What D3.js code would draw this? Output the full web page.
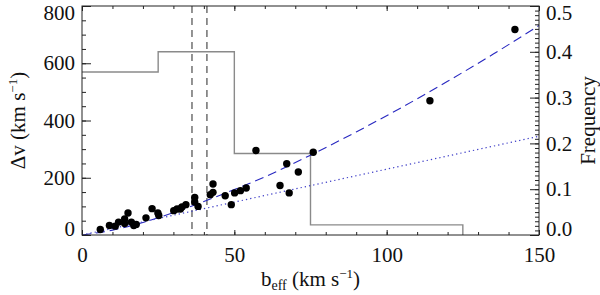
<!DOCTYPE html>
<html lang="en">
<head>
    <meta charset="UTF-8">
    <title>Delta v vs b_eff</title>
    <style>
        body { margin: 0; background: white; }
        svg { display: block; background: white; }
        svg text { font-family: "Liberation Serif", "Times New Roman", "DejaVu Serif", serif !important; fill: #111; }
        .axis path, .axis line { stroke: #222; }
    </style>
</head>
<body>
    <svg width="600" height="295" id="chart" font-family="Liberation Serif, serif"></svg>

    <script src="https://d3js.org/d3.v7.min.js"></script>
    <script>
        // measured points: b_eff (km/s), delta v (km/s)
        const bEff = [6.0, 9.0, 10.9, 12.0, 14.0, 15.1, 14.0, 16.2, 17.0, 17.8, 21.0, 23.0, 24.9, 25.2,
            30.1, 31.2, 32.3, 32.8, 34.1, 37.0, 37.0, 38.1, 42.1, 43.0, 43.0, 47.0, 49.0, 50.1, 52.0, 53.9,
            57.1, 65.0, 67.2, 68.0, 71.0, 75.9, 114.2, 142.1];
        const deltaV = [19, 33, 31, 45, 56, 77, 40, 45, 33, 37, 60, 92, 77, 68,
            85, 91, 91, 98, 106, 131, 115, 100, 141, 149, 178, 137, 106, 147, 155, 164,
            295, 173, 249, 147, 220, 289, 469, 718];

        // fitted relations
        const fitX = [0, 10, 20, 30, 40, 50, 60, 75, 90, 105, 120, 135, 150];
        const fitY = [0, 17, 44, 78, 117, 159, 203, 279, 360, 446, 537, 632, 732];
        const linX = [0, 150];
        const linY = [0, 345];

        // histogram of b_eff (right axis)
        const binEdges = [0, 25, 50, 75, 100, 125];
        const binFreq = [0.356, 0.400, 0.178, 0.022, 0.022];

        // vertical markers
        const markers = [36.1, 41.0];

        const xTicks = [0, 50, 100, 150];
        const yTicks = [0, 200, 400, 600, 800];
        const fTicks = [0.0, 0.1, 0.2, 0.3, 0.4, 0.5];

        const serif = "Liberation Serif, Times New Roman, serif";
        const svg = d3.select("#chart");
        const pLeft = 82, pRight = 539, pTop = 6, pBottom = 235;

        const x = d3.scaleLinear().domain([0, 150]).range([pLeft, pRight]);
        const y = d3.scaleLinear().domain([0, 800]).range([pBottom, pTop]);
        const yf = d3.scaleLinear().domain([0, 0.5]).range([pBottom, pTop]);

        // histogram
        const histPts = binEdges.slice(0, -1).map((e, i) => [e, binFreq[i]]);
        histPts.push([binEdges[binEdges.length - 1], 0]);
        svg.append("path")
            .attr("d", d3.line().x(d => x(d[0])).y(d => yf(d[1])).curve(d3.curveStepAfter)(histPts))
            .attr("fill", "none")
            .attr("stroke", "#8a8a8a")
            .attr("stroke-width", 1.4);

        // vertical dashed markers
        svg.selectAll("line.marker")
            .data(markers)
            .enter()
            .append("line")
            .attr("class", "marker")
            .attr("x1", d => x(d)).attr("x2", d => x(d))
            .attr("y1", pTop).attr("y2", pBottom)
            .attr("stroke", "#666")
            .attr("stroke-width", 1.4)
            .attr("stroke-dasharray", "7,5");

        // fit curves
        svg.append("path")
            .attr("d", d3.line().x(d => x(d[0])).y(d => y(d[1])).curve(d3.curveMonotoneX)(fitX.map((v, i) => [v, fitY[i]])))
            .attr("fill", "none")
            .attr("stroke", "#2828c0")
            .attr("stroke-width", 1.1)
            .attr("stroke-dasharray", "9,5");
        svg.append("path")
            .attr("d", d3.line().x(d => x(d[0])).y(d => y(d[1]))(linX.map((v, i) => [v, linY[i]])))
            .attr("fill", "none")
            .attr("stroke", "#4040c8")
            .attr("stroke-width", 1.2)
            .attr("stroke-dasharray", "1.3,3");

        // points
        svg.selectAll("circle")
            .data(bEff.map((v, i) => [v, deltaV[i]]))
            .enter()
            .append("circle")
            .attr("cx", d => x(d[0]))
            .attr("cy", d => y(d[1]))
            .attr("r", 3.7)
            .attr("fill", "black");

        // frame
        svg.append("rect")
            .attr("x", pLeft).attr("y", pTop)
            .attr("width", pRight - pLeft).attr("height", pBottom - pTop)
            .attr("fill", "none").attr("stroke", "#222");

        // bottom / top axes
        svg.append("g").attr("class", "axis")
            .attr("transform", `translate(0,${pBottom})`)
            .call(d3.axisBottom(x).tickValues(d3.range(0, 151, 10)).tickSize(-3).tickFormat(""))
            .call(g => g.select(".domain").remove());
        svg.append("g").attr("class", "axis")
            .attr("transform", `translate(0,${pBottom})`)
            .call(d3.axisBottom(x).tickValues(xTicks).tickSize(-5).tickPadding(12).tickFormat(d3.format("d")))
            .call(g => g.select(".domain").remove())
            .attr("font-family", serif)
            .call(g => g.selectAll("text").attr("font-size", 21).attr("dy", "0.72em"));
        svg.append("g").attr("class", "axis")
            .attr("transform", `translate(0,${pTop})`)
            .call(d3.axisTop(x).tickValues(d3.range(0, 151, 10)).tickSize(-3).tickFormat(""))
            .call(g => g.select(".domain").remove());
        svg.append("g").attr("class", "axis")
            .attr("transform", `translate(0,${pTop})`)
            .call(d3.axisTop(x).tickValues(xTicks).tickSize(-5).tickFormat(""))
            .call(g => g.select(".domain").remove());

        // left axis
        svg.append("g").attr("class", "axis")
            .attr("transform", `translate(${pLeft},0)`)
            .call(d3.axisLeft(y).tickValues(d3.range(0, 801, 50)).tickSize(-4).tickFormat(""))
            .call(g => g.select(".domain").remove());
        svg.append("g").attr("class", "axis")
            .attr("transform", `translate(${pLeft},0)`)
            .call(d3.axisLeft(y).tickValues(yTicks).tickSize(-9).tickPadding(7).tickFormat(d3.format("d")))
            .call(g => g.select(".domain").remove())
            .attr("font-family", serif)
            .call(g => g.selectAll("text").attr("font-size", 21)
                .attr("dy", d => d === 0 ? "-0.0em" : d === 800 ? "0.65em" : "0.32em"));

        // right axis
        svg.append("g").attr("class", "axis")
            .attr("transform", `translate(${pRight},0)`)
            .call(d3.axisRight(yf).tickValues(d3.range(0, 51).map(d => d / 100)).tickSize(-4).tickFormat(""))
            .call(g => g.select(".domain").remove());
        svg.append("g").attr("class", "axis")
            .attr("transform", `translate(${pRight},0)`)
            .call(d3.axisRight(yf).tickValues(fTicks).tickSize(-9).tickPadding(7).tickFormat(d3.format(".1f")))
            .call(g => g.select(".domain").remove())
            .attr("font-family", serif)
            .call(g => g.selectAll("text").attr("font-size", 21)
                .attr("dy", d => d === 0 ? "0.0em" : d === 0.5 ? "0.65em" : "0.32em"));

        // axis titles
        const xl = svg.append("text")
            .attr("x", (pLeft + pRight) / 2).attr("y", 286)
            .attr("font-family", serif)
            .attr("text-anchor", "middle").attr("font-size", 21);
        xl.append("tspan").text("b");
        xl.append("tspan").attr("font-size", 14).attr("dy", 4).text("eff");
        xl.append("tspan").attr("dy", -4).text(" (km s");
        xl.append("tspan").attr("font-size", 13).attr("dy", -8).text("\u22121");
        xl.append("tspan").attr("dy", 8).text(")");

        const yl = svg.append("text")
            .attr("transform", `translate(25,${(pTop + pBottom) / 2}) rotate(-90)`)
            .attr("font-family", serif)
            .attr("text-anchor", "middle").attr("font-size", 21);
        yl.append("tspan").text("\u0394v (km s");
        yl.append("tspan").attr("font-size", 13).attr("dy", -8).text("\u22121");
        yl.append("tspan").attr("dy", 8).text(")");

        svg.append("text")
            .attr("transform", `translate(595,${(pTop + pBottom) / 2}) rotate(-90)`)
            .attr("font-family", serif)
            .attr("text-anchor", "middle").attr("font-size", 21)
            .text("Frequency");
    </script>
</body>
</html>
